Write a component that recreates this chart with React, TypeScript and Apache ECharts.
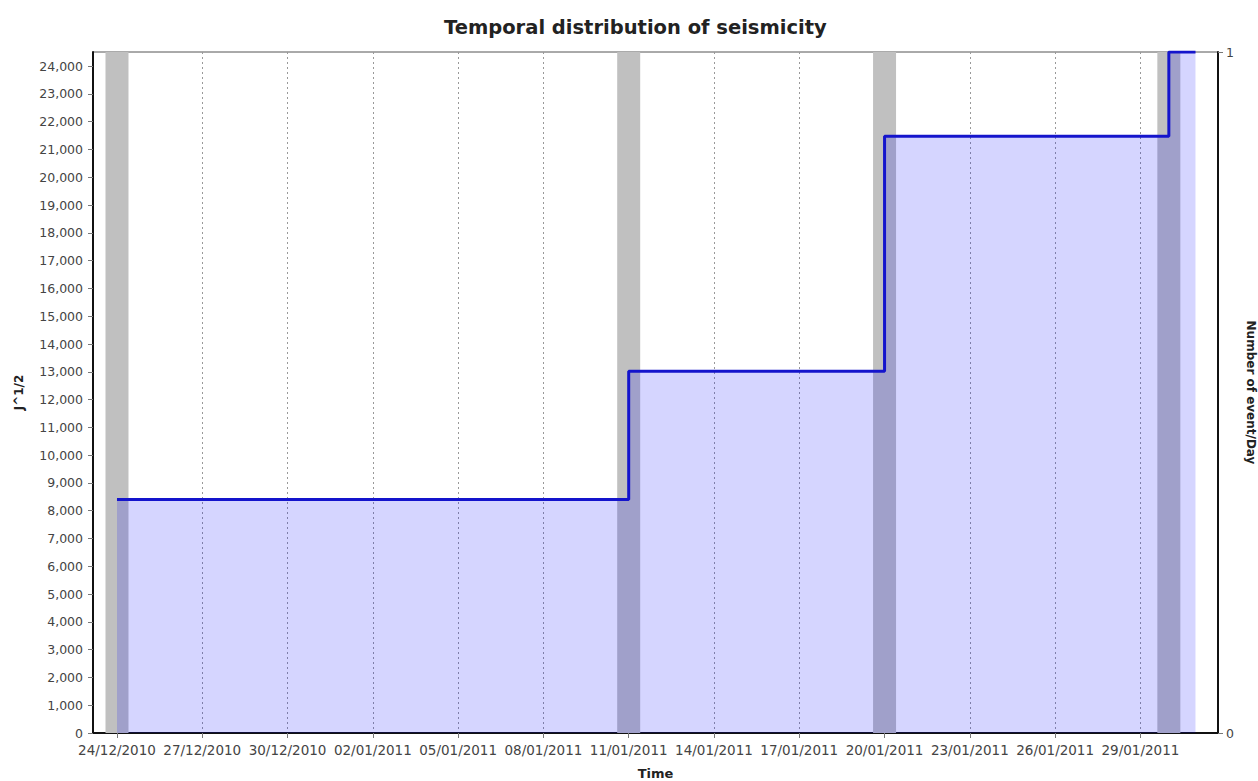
import React, { useEffect, useRef } from 'react';
import * as echarts from 'echarts';

// ---- data ----
const chartTitle = 'Temporal distribution of seismicity';
const xAxisName = 'Time';
const yAxisName = 'J^1/2';
const y2AxisName = 'Number of event/Day';

// tick labels on the time axis (every 3 days)
const xTickDates = [
  '24/12/2010', '27/12/2010', '30/12/2010', '02/01/2011', '05/01/2011', '08/01/2011',
  '11/01/2011', '14/01/2011', '17/01/2011', '20/01/2011', '23/01/2011', '26/01/2011', '29/01/2011',
];
// tick values on the left axis
const yTicks = [
  0, 1000, 2000, 3000, 4000, 5000, 6000, 7000, 8000, 9000, 10000, 11000, 12000,
  13000, 14000, 15000, 16000, 17000, 18000, 19000, 20000, 21000, 22000, 23000, 24000,
];
const y2Ticks = [0, 1];

// events (bars, right axis)
const eventDates = ['24/12/2010', '11/01/2011', '20/01/2011', '30/01/2011'];
const eventsPerDay = [1, 1, 1, 1];
// cumulative J^1/2 after each event (step line, left axis)
const cumulativeJ = [8400, 13020, 21480, 24510];
const lastSampleTime = '30/01/2011 22:30';

// axis extent
const xStart = '23/12/2010 03:45';
const xEnd = '31/01/2011 17:30';
const yMax = 24510;

// ---- helpers ----
function parseDate(s: string): number {
  const [datePart, timePart] = s.split(' ');
  const [dd, mm, yyyy] = datePart.split('/').map(Number);
  let h = 0, mi = 0;
  if (timePart) {
    const t = timePart.split(':').map(Number);
    h = t[0];
    mi = t[1];
  }
  return Date.UTC(yyyy, mm - 1, dd, h, mi);
}
const pad = (n: number) => (n < 10 ? '0' + n : '' + n);
function fmtDate(v: number): string {
  const d = new Date(v);
  return pad(d.getUTCDate()) + '/' + pad(d.getUTCMonth() + 1) + '/' + d.getUTCFullYear();
}

const FONT = 'DejaVu Sans';

export default function App() {
  const ref = useRef<HTMLDivElement>(null);
  useEffect(() => {
    const chart = echarts.init(ref.current!, null, { renderer: 'svg' });

    const xTickValues = xTickDates.map(parseDate);
    const barData = eventDates.map((d, i) => [parseDate(d), eventsPerDay[i]]);
    const stepData: number[][] = eventDates.map((d, i) => [parseDate(d), cumulativeJ[i]]);
    stepData.push([parseDate(lastSampleTime), cumulativeJ[cumulativeJ.length - 1]]);

    const option: any = {
      animation: false,
      backgroundColor: '#ffffff',
      title: {
        text: chartTitle,
        left: 444,
        top: 17,
        padding: 0,
        textStyle: { fontFamily: FONT, fontSize: 19.5, fontWeight: 'bold', color: '#222' },
      },
      grid: {
        left: 93,
        right: 40,
        top: 52,
        bottom: 48,
        show: true,
        borderColor: '#555',
        borderWidth: 1,
        backgroundColor: '#fff',
        outerBoundsMode: 'none',
      },
      xAxis: {
        type: 'value',
        min: parseDate(xStart),
        max: parseDate(xEnd),
        name: xAxisName,
        nameLocation: 'middle',
        nameGap: 34,
        nameTextStyle: { fontFamily: FONT, fontSize: 13, fontWeight: 'bold', color: '#222' },
        axisLine: { show: true, onZero: false, lineStyle: { color: '#111', width: 2 } },
        axisTick: {
          show: true,
          length: 5,
          customValues: xTickValues,
          lineStyle: { color: '#777' },
        },
        axisLabel: {
          customValues: xTickValues,
          formatter: (v: number) => fmtDate(v),
          fontFamily: FONT,
          fontSize: 13.5,
          color: '#444',
          margin: 10,
        },
        splitLine: {
          show: true,
          lineStyle: { color: '#999', type: [2, 3], width: 1 },
        },
      },
      yAxis: [
        {
          type: 'value',
          min: 0,
          max: yMax,
          position: 'left',
          name: yAxisName,
          nameLocation: 'middle',
          nameGap: 68,
          nameRotate: 90,
          nameTextStyle: { fontFamily: FONT, fontSize: 12, fontWeight: 'bold', color: '#222' },
          axisLine: { show: true, lineStyle: { color: '#111', width: 2 } },
          axisTick: { show: true, length: 5, customValues: yTicks, lineStyle: { color: '#777' } },
          axisLabel: {
            customValues: yTicks,
            formatter: (v: number) => v.toLocaleString('en-US'),
            fontFamily: FONT,
            fontSize: 12.5,
            color: '#444',
            margin: 10,
          },
          splitLine: { show: false },
        },
        {
          type: 'value',
          min: 0,
          max: 1,
          interval: 1,
          position: 'right',
          name: y2AxisName,
          nameLocation: 'middle',
          nameGap: 25,
          nameRotate: -90,
          nameTextStyle: { fontFamily: FONT, fontSize: 12, fontWeight: 'bold', color: '#222' },
          axisLine: { show: true, lineStyle: { color: '#111', width: 2 } },
          axisTick: { show: true, length: 5, customValues: y2Ticks, lineStyle: { color: '#777' } },
          axisLabel: {
            customValues: y2Ticks,
            fontFamily: FONT,
            fontSize: 12.5,
            color: '#444',
            margin: 8,
          },
          splitLine: { show: false },
        },
      ],
      series: [
        {
          name: y2AxisName,
          type: 'bar',
          yAxisIndex: 1,
          data: barData,
          barWidth: 23,
          itemStyle: { color: '#c0c0c0' },
          silent: true,
        },
        {
          name: yAxisName,
          type: 'line',
          yAxisIndex: 0,
          step: 'end',
          data: stepData,
          showSymbol: false,
          symbol: 'none',
          lineStyle: { color: '#1414cc', width: 3 },
          areaStyle: { color: 'rgba(0,0,255,0.165)', opacity: 1, origin: 'start' },
          silent: true,
        },
      ],
    };
    chart.setOption(option);
    return () => chart.dispose();
  }, []);
  return (
    <div
      ref={ref}
      style={{ position: 'fixed', left: 0, top: 0, width: 1258, height: 781, background: '#fff' }}
    />
  );
}
